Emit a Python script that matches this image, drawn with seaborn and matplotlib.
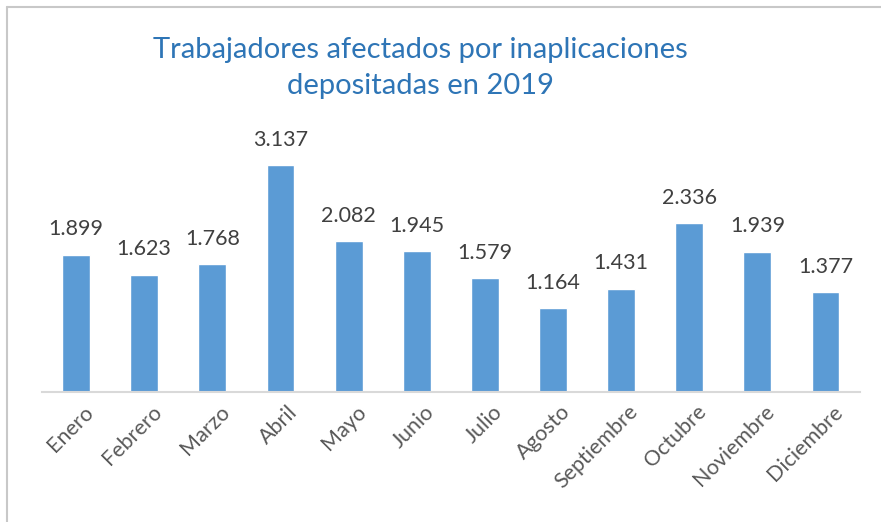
import matplotlib
matplotlib.use("Agg")
import matplotlib.pyplot as plt
import matplotlib.transforms as mtransforms
import seaborn as sns
import pandas as pd
from matplotlib.lines import Line2D

meses = ["Enero", "Febrero", "Marzo", "Abril", "Mayo", "Junio", "Julio",
         "Agosto", "Septiembre", "Octubre", "Noviembre", "Diciembre"]
trabajadores = [1899, 1623, 1768, 3137, 2082, 1945, 1579, 1164, 1431, 2336, 1939, 1377]
etiquetas = ["1.899", "1.623", "1.768", "3.137", "2.082", "1.945", "1.579",
             "1.164", "1.431", "2.336", "1.939", "1.377"]
titulo = "Trabajadores afectados por inaplicaciones\ndepositadas en 2019"

sns.set_style("white")
plt.rcParams['font.family'] = ['Lato', 'DejaVu Sans']

df = pd.DataFrame({"mes": meses, "valor": trabajadores})

fig = plt.figure(figsize=(8.81, 5.22), dpi=100)
ax = fig.add_axes([0.0477, 0.249, 0.928, 0.485])
sns.barplot(data=df, x="mes", y="valor", color="#5B9BD5", saturation=1,
            width=0.41, ax=ax)
ax.set_xlim(-0.5, 11.5)
ax.set_ylim(0, 3500)
ax.set_xlabel("")
ax.set_ylabel("")
ax.set_yticks([])
for s in ["top", "right", "left"]:
    ax.spines[s].set_visible(False)
ax.spines["bottom"].set_color("#D9D9D9")
ax.spines["bottom"].set_linewidth(1.5)
ax.tick_params(axis="x", length=0, pad=7)
ax.set_xticks(range(len(meses)))
ax.set_xticklabels(meses, rotation=45, ha="right", rotation_mode="anchor",
                   fontsize=15.5, color="#595959")
shift = mtransforms.ScaledTranslation(7 / 100, 0, fig.dpi_scale_trans)
for lbl in ax.get_xticklabels():
    lbl.set_transform(lbl.get_transform() + shift)

for i, (v, t) in enumerate(zip(trabajadores, etiquetas)):
    ax.annotate(t, (i, v), xytext=(0, 11), textcoords="offset points",
                ha="center", va="bottom", fontsize=15.5, color="#404040")

fig.text(0.477, 0.870, titulo, ha="center", va="center", fontsize=21,
         color="#2E75B6", linespacing=1.5)

# outer frame lines (top and left) like the reference
fig.add_artist(Line2D([7 / 881, 1.0], [1 - 7 / 522, 1 - 7 / 522],
                      transform=fig.transFigure, color="#C8C8C8", lw=1.5))
fig.add_artist(Line2D([7 / 881, 7 / 881], [0.0, 1 - 7 / 522],
                      transform=fig.transFigure, color="#C8C8C8", lw=1.5))

fig.savefig("out.png", dpi=100)
